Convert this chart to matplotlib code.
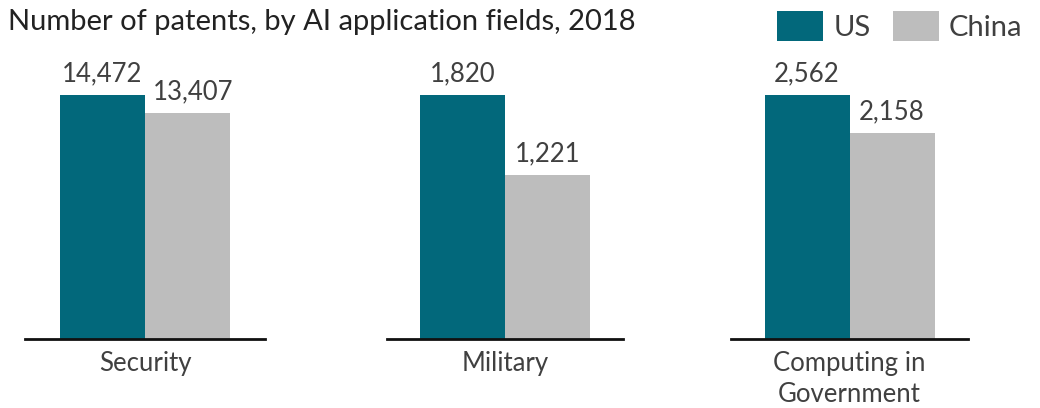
import numpy as np
import matplotlib.pyplot as plt

plt.rcParams['font.family'] = ['Lato', 'DejaVu Sans']

# Daten
fields = ['Security', 'Military', 'Computing in\nGovernment']
us = np.array([14472, 1820, 2562], dtype=float)
china = np.array([13407, 1221, 2158], dtype=float)
series = ['US', 'China']

c_us = '#02687b'
c_cn = '#bdbdbd'
c_txt = '#404040'

fig = plt.figure(figsize=(10.4, 4.08), dpi=100)

W, H = 1040, 408
# panel left/right edges in pixels
panels = [(25, 265), (387, 623), (731, 968)]
y_base, y_top = 339, 60
bar_px = 244  # height of the US bar in every panel

bars = []
for i, (x0, x1) in enumerate(panels):
    ax = fig.add_axes([x0 / W, (H - y_base) / H, (x1 - x0) / W, (y_base - y_top) / H])
    unit = 85.0
    extra = ((x1 - x0) / unit - 2) / 2
    b1 = ax.bar(0, us[i], width=1, color=c_us)
    b2 = ax.bar(1, china[i], width=1, color=c_cn)
    bars = [b1, b2]
    ax.set_xlim(-0.5 - extra, 1.5 + extra)
    ax.set_ylim(0, us[i] * (y_base - y_top) / bar_px)
    # label the grey bar a bit to the right when the two labels get close
    dx = 4 if (us[i] - china[i]) / us[i] < 0.1 else 0
    for x, v, off in [(0, us[i], 0), (1, china[i], dx)]:
        ax.annotate(f'{int(v):,}', (x, v), xytext=(off, 6.5), textcoords='offset points',
                    ha='center', va='bottom', fontsize=18.5, color=c_txt)
    for s in ['top', 'right', 'left']:
        ax.spines[s].set_visible(False)
    ax.spines['bottom'].set_linewidth(2)
    ax.spines['bottom'].set_color('#111111')
    ax.set_yticks([])
    ax.set_xticks([0.5], [fields[i]])
    ax.tick_params(axis='x', length=0, pad=9, labelsize=18.5, labelcolor=c_txt)
    for lab in ax.get_xticklabels():
        lab.set_linespacing(1.28)
        lab.set_verticalalignment('top')

fig.text(8 / W, 1 - 22 / H, 'Number of patents, by AI application fields, 2018',
         fontsize=21, color='#222222', va='center', ha='left')

fig.legend(bars, series, loc='center left', bbox_to_anchor=(751 / W, 1 - 26 / H),
           ncol=2, frameon=False, fontsize=21, handlelength=1.58, handleheight=1.17,
           handletextpad=0.35, columnspacing=0.75, labelcolor=c_txt)

fig.savefig('out.png', dpi=100)
